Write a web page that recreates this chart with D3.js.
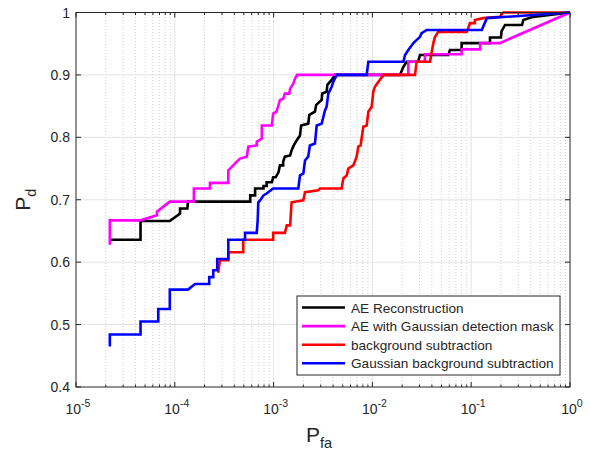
<!DOCTYPE html>
<html>
<head>
<meta charset="utf-8">
<script src="https://cdn.jsdelivr.net/npm/d3@7"></script>
<style>
  body { margin: 0; background: #fff; }
  text { font-family: "Liberation Sans", Arial, sans-serif; fill: #262626; }
</style>
</head>
<body>
<script>
// tick values
const xTicks = [1e-5, 1e-4, 1e-3, 1e-2, 1e-1, 1];
const xTickExp = ["-5", "-4", "-3", "-2", "-1", "0"];
const yTicks = [0.4, 0.5, 0.6, 0.7, 0.8, 0.9, 1];

const seriesNames = ["AE Reconstruction", "AE with Gaussian detection mask",
  "background subtraction", "Gaussian background subtraction"];
const seriesColors = ["#000000", "#ff00ff", "#ff0000", "#0000ff"];

// AE Reconstruction
const aePfa = [2.2e-5, 4.5e-5, 4.5e-5, 8.9e-5, 1.13e-4, 1.13e-4, 1.34e-4, 1.36e-4, 5.8e-4, 5.8e-4, 6.5e-4, 6.5e-4,
  7.9e-4, 7.9e-4, 8.5e-4, 8.5e-4, 9.6e-4, 9.9e-4, 1.05e-3, 1.12e-3, 1.16e-3, 1.25e-3, 1.25e-3, 1.3e-3, 1.47e-3,
  1.52e-3, 1.6e-3, 1.71e-3, 1.85e-3, 1.9e-3, 2.24e-3, 2.3e-3, 2.62e-3, 2.7e-3, 3.07e-3, 3.1e-3, 3.44e-3, 3.5e-3,
  3.87e-3, 4.18e-3, 0.019, 0.0206, 0.0222, 0.029, 0.0303, 0.0586, 0.061, 0.08, 0.08, 0.155, 0.155, 0.2, 0.203,
  0.22, 0.327, 0.337, 0.423, 1];
const aePd = [0.636, 0.636, 0.666, 0.666, 0.678, 0.686, 0.686, 0.697, 0.697, 0.707, 0.707, 0.718,
  0.718, 0.722, 0.722, 0.728, 0.728, 0.736, 0.736, 0.744, 0.755, 0.755, 0.761, 0.769, 0.771,
  0.779, 0.787, 0.795, 0.803, 0.819, 0.822, 0.836, 0.841, 0.852, 0.86, 0.87, 0.873, 0.884,
  0.892, 0.9, 0.9, 0.913, 0.921, 0.921, 0.932, 0.932, 0.94, 0.94, 0.951, 0.951, 0.96, 0.96, 0.97,
  0.98, 0.98, 0.988, 0.993, 1];

// AE with Gaussian detection mask
const maskPfa = [2.2e-5, 2.2e-5, 4.5e-5, 6.6e-5, 6.6e-5, 8.9e-5, 1.56e-4, 1.56e-4, 2.27e-4, 2.27e-4, 3.48e-4,
  3.48e-4, 4.06e-4, 4.57e-4, 5.35e-4, 5.55e-4, 6.75e-4, 6.75e-4, 7.6e-4, 7.6e-4, 9.6e-4, 9.9e-4, 1.07e-3,
  1.16e-3, 1.25e-3, 1.3e-3, 1.44e-3, 1.47e-3, 1.58e-3, 1.65e-3, 1.73e-3, 0.0231, 0.0231, 0.034, 0.034,
  0.08, 0.08, 0.123, 0.123, 0.195, 1];
const maskPd = [0.628, 0.667, 0.667, 0.675, 0.681, 0.697, 0.697, 0.718, 0.718, 0.727, 0.727,
  0.747, 0.758, 0.766, 0.769, 0.785, 0.787, 0.793, 0.798, 0.819, 0.819, 0.838, 0.841,
  0.86, 0.862, 0.87, 0.87, 0.878, 0.886, 0.894, 0.9, 0.9, 0.921, 0.921, 0.933,
  0.933, 0.941, 0.941, 0.951, 0.951, 1];

// background subtraction
const bgPfa = [2.75e-4, 2.86e-4, 3.48e-4, 3.48e-4, 4.93e-4, 4.93e-4, 9.9e-4, 9.9e-4, 1.3e-3, 1.36e-3, 1.47e-3,
  1.52e-3, 2.0e-3, 2.08e-3, 2.83e-3, 2.95e-3, 4.89e-3, 5.07e-3, 5.5e-3, 5.7e-3, 6.41e-3, 6.93e-3, 7.2e-3,
  7.6e-3, 8.09e-3, 8.75e-3, 9.1e-3, 9.84e-3, 0.0102, 0.0106, 0.0115, 0.013, 0.027, 0.028, 0.0383, 0.0414,
  0.043, 0.0464, 0.09, 0.0935, 0.097, 0.109, 0.109, 0.132, 0.195, 0.211, 1];
const bgPd = [0.583, 0.603, 0.603, 0.616, 0.616, 0.636, 0.636, 0.647, 0.647, 0.659, 0.659,
  0.696, 0.699, 0.712, 0.715, 0.718, 0.718, 0.734, 0.739, 0.75, 0.755, 0.769, 0.785,
  0.787, 0.817, 0.819, 0.841, 0.849, 0.873, 0.881, 0.889, 0.9, 0.9, 0.921, 0.921, 0.951,
  0.961, 0.969, 0.969, 0.975, 0.983, 0.983, 0.988, 0.991, 0.993, 1, 1];

// Gaussian background subtraction
const gaussPfa = [2.2e-5, 2.2e-5, 4.5e-5, 4.5e-5, 6.8e-5, 6.8e-5, 8.9e-5, 8.9e-5, 1.36e-4, 1.6e-4, 2.23e-4,
  2.23e-4, 2.45e-4, 2.45e-4, 2.69e-4, 2.69e-4, 3.48e-4, 3.48e-4, 5.14e-4, 5.14e-4, 6.75e-4, 6.9e-4, 7.0e-4,
  7.3e-4, 7.9e-4, 8.5e-4, 9.9e-4, 1.78e-3, 1.85e-3, 2.0e-3, 2.08e-3, 2.24e-3, 2.33e-3, 2.62e-3, 2.73e-3,
  3.07e-3, 3.31e-3, 3.44e-3, 3.58e-3, 3.87e-3, 4.02e-3, 4.36e-3, 8.75e-3, 9.1e-3, 0.0206, 0.0214, 0.0231,
  0.026, 0.0303, 0.0315, 0.0355, 0.128, 0.144, 1];
const gaussPd = [0.465, 0.484, 0.484, 0.505, 0.505, 0.525, 0.525, 0.556, 0.556, 0.565, 0.565,
  0.576, 0.576, 0.587, 0.587, 0.605, 0.605, 0.636, 0.636, 0.647, 0.647, 0.667, 0.696,
  0.699, 0.707, 0.71, 0.718, 0.718, 0.739, 0.742, 0.763, 0.769, 0.787, 0.79, 0.819,
  0.822, 0.843, 0.849, 0.87, 0.881, 0.889, 0.9, 0.9, 0.921, 0.921, 0.932, 0.94,
  0.951, 0.961, 0.967, 0.972, 0.972, 0.991, 1];

const allPfa = [aePfa, maskPfa, bgPfa, gaussPfa];
const allPd = [aePd, maskPd, bgPd, gaussPd];

// layout
const width = 590, height = 453;
const margin = { top: 12.5, right: 20, bottom: 66, left: 76 };

const svg = d3.select("body").append("svg")
  .attr("width", width)
  .attr("height", height);

const x = d3.scaleLog()
  .domain([1e-5, 1])
  .range([margin.left, width - margin.right]);
const y = d3.scaleLinear()
  .domain([0.4, 1])
  .range([height - margin.bottom, margin.top]);

const x0 = x.range()[0], x1 = x.range()[1];
const y0 = y.range()[0], y1 = y.range()[1];

// minor x values between decades
const minorX = [];
for (let e = -5; e < 0; e++) {
  for (let k = 2; k <= 9; k++) minorX.push(k * Math.pow(10, e));
}

// grid
const grid = svg.append("g");
grid.selectAll(".minor")
  .data(minorX)
  .join("line")
  .attr("x1", d => x(d)).attr("x2", d => x(d))
  .attr("y1", y0).attr("y2", y1)
  .attr("stroke", "#c4c4c4")
  .attr("stroke-width", 0.8)
  .attr("stroke-dasharray", "1,2");
grid.selectAll(".majx")
  .data(xTicks.slice(1, -1))
  .join("line")
  .attr("x1", d => x(d)).attr("x2", d => x(d))
  .attr("y1", y0).attr("y2", y1)
  .attr("stroke", "#e3e3e3");
grid.selectAll(".majy")
  .data(yTicks.slice(1, -1))
  .join("line")
  .attr("x1", x0).attr("x2", x1)
  .attr("y1", d => y(d)).attr("y2", d => y(d))
  .attr("stroke", "#e3e3e3");

// curves
const line = d3.line()
  .x(d => x(d[0]))
  .y(d => y(d[1]));

allPfa.forEach((pfa, i) => {
  const pts = pfa.map((v, j) => [v, allPd[i][j]]);
  svg.append("path")
    .datum(pts)
    .attr("fill", "none")
    .attr("stroke", seriesColors[i])
    .attr("stroke-width", 2.6)
    .attr("stroke-linejoin", "miter")
    .attr("d", line);
});

// axes box and ticks
const axisColor = "#262626";
const ticks = svg.append("g").attr("stroke", axisColor).attr("stroke-width", 1);
ticks.selectAll(".xt")
  .data(xTicks)
  .join("g")
  .each(function(d) {
    const g = d3.select(this);
    g.append("line").attr("x1", x(d)).attr("x2", x(d)).attr("y1", y0).attr("y2", y0 - 5);
    g.append("line").attr("x1", x(d)).attr("x2", x(d)).attr("y1", y1).attr("y2", y1 + 5);
  });
ticks.selectAll(".xm")
  .data(minorX)
  .join("g")
  .each(function(d) {
    const g = d3.select(this);
    g.append("line").attr("x1", x(d)).attr("x2", x(d)).attr("y1", y0).attr("y2", y0 - 2.5);
    g.append("line").attr("x1", x(d)).attr("x2", x(d)).attr("y1", y1).attr("y2", y1 + 2.5);
  });
ticks.selectAll(".yt")
  .data(yTicks)
  .join("g")
  .each(function(d) {
    const g = d3.select(this);
    g.append("line").attr("x1", x0).attr("x2", x0 + 5).attr("y1", y(d)).attr("y2", y(d));
    g.append("line").attr("x1", x1).attr("x2", x1 - 5).attr("y1", y(d)).attr("y2", y(d));
  });

svg.append("rect")
  .attr("x", x0).attr("y", y1)
  .attr("width", x1 - x0).attr("height", y0 - y1)
  .attr("fill", "none")
  .attr("stroke", axisColor)
  .attr("stroke-width", 1);

// tick labels
svg.append("g").selectAll("text")
  .data(yTicks)
  .join("text")
  .attr("x", x0 - 6)
  .attr("y", d => y(d) + 5)
  .attr("text-anchor", "end")
  .style("font-size", "14px")
  .text(d => d === 1 ? "1" : d.toFixed(1));

const xl = svg.append("g").selectAll("text")
  .data(xTicks)
  .join("text")
  .attr("x", d => x(d) + 2)
  .attr("y", y0 + 27)
  .attr("text-anchor", "middle")
  .style("font-size", "14px");
xl.append("tspan").text("10");
xl.append("tspan")
  .attr("dy", -7)
  .style("font-size", "10.5px")
  .text((d, i) => xTickExp[i]);

// axis titles
const xt = svg.append("text")
  .attr("x", (x0 + x1) / 2 - 4)
  .attr("y", 442)
  .attr("text-anchor", "middle")
  .style("font-size", "21px");
xt.append("tspan").text("P");
xt.append("tspan").attr("dy", 6).style("font-size", "14.5px").text("fa");

const yt = svg.append("text")
  .attr("transform", `translate(30,${(y0 + y1) / 2}) rotate(-90)`)
  .attr("text-anchor", "middle")
  .style("font-size", "21px");
yt.append("tspan").text("P");
yt.append("tspan").attr("dy", 6).style("font-size", "14.5px").text("d");

// legend
const lg = svg.append("g").attr("transform", "translate(297,296)");
lg.append("rect")
  .attr("width", 263).attr("height", 79)
  .attr("fill", "#fff")
  .attr("stroke", axisColor)
  .attr("stroke-width", 1);
seriesNames.forEach((name, i) => {
  const ly = 11.5 + i * 18.6;
  lg.append("line")
    .attr("x1", 5).attr("x2", 48)
    .attr("y1", ly).attr("y2", ly)
    .attr("stroke", seriesColors[i])
    .attr("stroke-width", 2.6);
  lg.append("text")
    .attr("x", 54)
    .attr("y", ly + 5)
    .style("font-size", "13.6px")
    .text(name);
});
</script>
</body>
</html>
